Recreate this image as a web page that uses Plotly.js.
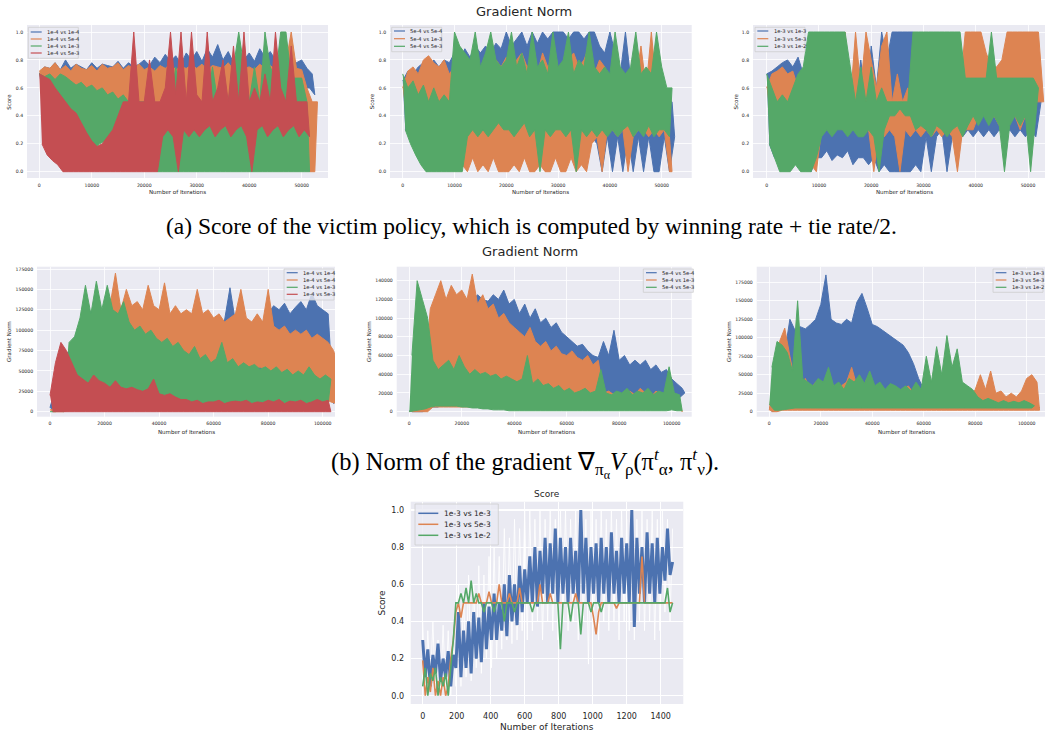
<!DOCTYPE html>
<html><head><meta charset="utf-8">
<script src="https://cdn.plot.ly/plotly-3.0.1.min.js"></script>
<style>html,body{margin:0;padding:0;background:#fff;}#chart{width:1045px;height:736px;}</style>
</head><body><div id="chart"></div>
<script>
// ---------------- DATA ----------------
// iteration spacing of the recorded values
const TOP_STEP = 500;     // row (a): score vs iterations
const MID_STEP = 1000;    // row (b): gradient norm vs iterations
const BOT_STEP = 15;      // bottom: score vs iterations

const NAMES_1E4 = ['1e-4 vs 1e-4','1e-4 vs 5e-4','1e-4 vs 1e-3','1e-4 vs 5e-3'];
const NAMES_5E4 = ['5e-4 vs 5e-4','5e-4 vs 1e-3','5e-4 vs 5e-3'];
const NAMES_1E3 = ['1e-3 vs 1e-3','1e-3 vs 5e-3','1e-3 vs 1e-2'];

const TOP_X_TICKS = [0,10000,20000,30000,40000,50000];
const MID_X_TICKS = [0,20000,40000,60000,80000,100000];
const BOT_X_TICKS = [0,200,400,600,800,1000,1200,1400];
const SCORE_TICKS = [0,0.2,0.4,0.6,0.8,1.0];
const GN_TICKS_175 = [0,25000,50000,75000,100000,125000,150000,175000];
const GN_TICKS_140 = [0,20000,40000,60000,80000,100000,120000,140000];

// (a) left: 1e-4
const TL_blue = [.7,.55,.75,.6,.74,.62,.78,.6,.73,.62,.8,.6,.74,.63,.77,.6,.75,.62,.73,.6,
.78,.62,.74,.6,.77,.63,.76,.6,.75,.62,.79,.6,.74,.62,.78,.6,.75,.63,.77,.6,
.8,.62,.76,.6,.82,.63,.78,.6,.84,.62,.79,.6,.83,.62,.77,.6,.85,.63,.8,.6,
.86,.62,.79,.6,.88,.63,.82,.6,.91,.62,.8,.6,.86,.62,.78,.6,.84,.63,.8,.6,
.85,.62,.79,.6,.88,.6,.82,.63,.86,.6,.8,.62,.85,.6,.79,.62,.83,.6,.78,.62,
.8,.6,.74,.6,.7,.55];
const TL_orange = [.72,.55,.75,.55,.74,.52,.78,.5,.73,.5,.76,.48,.72,.5,.77,.46,.74,.45,.73,.45,
.76,.44,.72,.45,.77,.43,.74,.45,.75,.44,.78,.46,.73,.45,.76,.48,.74,.5,.77,.5,
.73,.5,.75,.5,.72,.5,.76,.5,.74,.5,.77,.5,.73,.5,.75,.5,.74,.5,.76,.5,
.74,.5,.77,.5,.73,.5,.76,.5,.75,.5,.74,.5,.78,.5,.73,.5,.76,.5,.74,.5,
.75,.5,.73,.5,.77,.5,.74,.5,.76,.5,.73,.5,.75,.5,.78,.5,1,.5,.74,.5,
.73,.5,.6,0,.5,0,.5];
const TL_green = [.7,.62,.68,.58,.7,.55,.66,.5,.7,.45,.68,.42,.65,.38,.62,.32,.64,.25,.6,.18,
.62,.16,.58,.2,.6,.22,.55,.25,.57,.28,.52,.35,.55,.3,.5,.28,.55,.25,.5,.2,
.5,.22,.5,.15,.5,0,.45,0,.5,0,.5,0,.75,0,.5,0,.5,0,.5,0,
.5,0,.5,0,.5,0,.75,0,.5,0,.5,0,.5,0,.75,0,1,0,.75,0,
.5,0,.75,0,.5,0,1,0,.75,0,.67,0,1,0,1,0,.67,0,.67,0,
.67,0,.5,0];
const TL_red = [.7,.2,.68,.12,.66,.08,.6,.05,.55,0,.5,0,.45,0,.42,0,.35,0,.28,0,
.22,0,.18,0,.2,0,.25,0,.3,0,.4,0,.5,0,.5,0,1,0,.5,0,
.5,0,.8,0,.5,0,.5,.25,.6,.3,1,.25,.55,0,1,.3,.5,.25,1,.3,
.55,.25,.5,.3,1,.33,.5,.25,.6,.3,.8,.33,.5,.25,.9,.3,.5,.33,1,.25,
.5,0,.6,.3,.5,.33,.7,.25,.5,.3,1,.33,.6,.25,.5,.3,.9,.33,.5,.25,
.5,.3,.5,.25];

// (a) middle: 5e-4
const TM_blue = [.65,.3,.72,.35,.7,.4,.75,.38,.78,.4,.72,.35,.8,.4,.75,.38,.8,.35,.78,.4,
.85,.4,.8,.35,.88,.4,.82,.38,.9,.4,.85,.35,.9,.4,.85,.38,.92,.4,.88,.35,
1,.4,.9,.35,.95,.4,1,.38,.9,.4,1,.35,.92,.4,1,.38,.95,.35,1,.4,
1,.3,1,.35,.95,.3,1,.35,1,.3,.95,.35,1,.25,1,.2,.9,0,.85,.25,
1,0,.85,.25,.7,0,1,.25,.67,0,.67,.25,.75,0,.67,.25,.75,0,.67,0,
.67,.25,.5,0,.5,.25];
const TM_orange = [.6,.45,.72,.4,.75,.42,.7,.38,.8,.4,.83,.45,.78,.38,.75,.42,.8,.4,.7,.38,
.75,.1,.6,.05,.7,0,.8,.1,.65,0,.75,.05,.7,0,.85,.1,.8,0,.75,0,
.82,0,.7,.05,.8,0,.85,.1,.75,0,.8,0,.7,.05,.85,0,.75,0,.8,.1,
.75,0,.7,0,.8,.1,.85,0,.75,.05,.8,0,.9,.2,.7,.25,.8,0,.75,.3,
.6,.3,.8,.25,.65,.3,.7,0,.6,.25,.65,.3,.9,.3,.6,.25,1,.3,.6,.25,
.6,.3,.5,0,0];
const TM_green = [.7,.3,.6,.2,.65,.12,.55,.05,.62,0,.5,0,.6,0,.5,0,.55,0,.5,0,
1,0,.9,0,.85,.25,.8,.3,1,.25,.75,.3,.85,.25,1,.3,.8,.35,.75,.3,
.8,.3,1,.25,.75,.3,.85,.35,.7,.25,1,.3,.75,0,.8,.3,.7,.25,1,.3,
.75,.3,.8,.25,1,.3,.7,0,.8,.3,.75,.25,1,.3,.75,.25,.7,.3,.75,.25,
.7,.3,1,.25,.75,.3,.7,.33,.75,.25,1,.3,.7,.25,.75,.33,.7,.25,1,.3,
.75,.3,.6,.25,.6];

// (a) right: 1e-3
const TR_blue = [.7,.2,.72,.1,.75,.08,.78,.05,.8,.1,.75,.05,.82,.1,.7,.05,.65,0,.6,.1,
.5,.1,.45,.15,.5,.08,.4,.12,.45,.1,.5,.15,.45,.05,.5,.1,.8,.1,.5,.05,
.9,.1,.6,0,1,.05,.8,0,1,0,1,0,1,0,1,0,1,.05,.7,0,
.5,.25,.6,0,.5,.25,.5,.3,.6,0,.5,.25,.5,.3,.5,.25,.6,.3,.5,.25,
.5,.3,.5,.25,.6,.3,.5,.25,.5,.3,.5,.25,.67,.3,.5,.25,.5,.3,.5,.25,
.5,.3,.5,.25,.55,.5];
const TR_orange = [.6,.45,.7,.5,.72,.45,.75,.4,.7,.45,.72,.5,.6,.3,.5,.2,.4,.05,.5,0,
.8,.3,.5,.35,.9,.3,.6,.35,.7,.3,1,.35,.5,.3,1,.35,.6,.3,1,.3,
.8,0,.6,.3,.9,.25,1,.3,.5,.25,.7,0,.5,.3,.6,.25,.5,.3,1,.25,
.6,.3,.5,.25,1,.3,.5,.25,.7,.3,.5,.25,1,0,.6,.3,1,.3,1,.3,
1,.4,1,.45,.85,.35,.75,.4,.75,.33,.8,.3,1,.35,1,.4,1,.3,1,.4,
1,.35,1,.5,1,.5,.5];
const TR_green = [.7,.2,.6,.1,.5,0,.55,0,.5,0,.6,.05,.7,0,.75,0,1,0,1,.1,
1,.25,1,.3,1,.25,1,.3,1,.3,1,.25,.75,.3,.5,.25,.75,.25,.5,.3,
.75,.25,.5,0,.6,.3,.5,.4,.5,.4,.5,.45,.5,.4,.5,.4,1,.3,1,.33,
1,.3,1,.25,1,.33,1,.3,1,.25,1,.3,1,.33,1,.25,.67,.33,.67,.4,
.67,.33,.67,.4,.67,.33,1,.4,.67,.33,.67,0,.67,.33,.67,.4,.67,.33,.67,.4,
.67,0,.67,.4,.6];

// (b) left: 1e-4 gradient norm
const ML_blue = [5e3,0,30e3,5e3,50e3,5e3,70e3,10e3,80e3,10e3,
100e3,15e3,110e3,20e3,120e3,20e3,125e3,25e3,120e3,30e3,
125e3,35e3,120e3,40e3,130e3,40e3,125e3,45e3,120e3,40e3,
125e3,45e3,120e3,40e3,115e3,45e3,125e3,40e3,120e3,45e3,
115e3,40e3,120e3,45e3,110e3,40e3,115e3,45e3,110e3,40e3,
110e3,35e3,105e3,40e3,110e3,35e3,105e3,40e3,110e3,35e3,
105e3,40e3,110e3,35e3,112e3,40e3,152e3,35e3,110e3,40e3,
145e3,35e3,105e3,40e3,110e3,35e3,100e3,40e3,110e3,35e3,
120e3,40e3,130e3,35e3,125e3,40e3,133e3,35e3,120e3,40e3,
128e3,35e3,135e3,40e3,125e3,35e3,145e3,40e3,130e3,35e3,
125e3,30e3,120e3,20e3,10e3];
const ML_orange = [2e3,0,5e3,0,10e3,0,20e3,2e3,40e3,5e3,
60e3,10e3,80e3,15e3,90e3,20e3,100e3,25e3,110e3,30e3,
125e3,40e3,130e3,45e3,170e3,50e3,125e3,55e3,150e3,50e3,
130e3,55e3,135e3,50e3,125e3,55e3,155e3,50e3,130e3,55e3,
125e3,50e3,158e3,55e3,120e3,50e3,130e3,55e3,120e3,50e3,
125e3,55e3,120e3,50e3,150e3,55e3,120e3,50e3,125e3,55e3,
115e3,50e3,120e3,55e3,110e3,50e3,115e3,55e3,120e3,50e3,
150e3,50e3,115e3,55e3,110e3,50e3,120e3,55e3,110e3,50e3,
150e3,45e3,105e3,40e3,100e3,45e3,105e3,40e3,95e3,35e3,
100e3,35e3,95e3,30e3,100e3,30e3,90e3,25e3,95e3,20e3,
90e3,15e3,85e3,12e3,75e3,10e3,50e3];
const ML_green = [0,1e3,0,1e3,2e3,0,2e3,85e3,5e3,92e3,
8e3,115e3,10e3,155e3,10e3,120e3,12e3,160e3,10e3,125e3,
12e3,155e3,10e3,125e3,12e3,120e3,10e3,135e3,12e3,110e3,
10e3,100e3,12e3,105e3,10e3,95e3,12e3,100e3,10e3,90e3,
12e3,85e3,10e3,90e3,8e3,80e3,10e3,85e3,8e3,75e3,
5e3,70e3,8e3,80e3,5e3,65e3,8e3,70e3,5e3,60e3,
8e3,65e3,5e3,85e3,8e3,60e3,5e3,65e3,8e3,55e3,
10e3,60e3,8e3,55e3,10e3,58e3,8e3,52e3,10e3,55e3,
8e3,50e3,10e3,55e3,8e3,48e3,10e3,52e3,8e3,45e3,
10e3,50e3,8e3,45e3,10e3,55e3,8e3,45e3,10e3,40e3,
8e3,45e3,10e3,40e3];
const ML_red = [20e3,0,60e3,0,85e3,0,75e3,0,60e3,0,
45e3,0,40e3,0,35e3,0,45e3,0,38e3,0,
35e3,0,30e3,0,38e3,0,30e3,0,28e3,0,
30e3,0,27e3,0,25e3,0,28e3,0,40e3,0,
22e3,0,20e3,0,22e3,0,18e3,0,15e3,0,
15e3,0,12e3,0,14e3,0,10e3,0,12e3,0,
12e3,0,14e3,0,10e3,0,12e3,0,13e3,0,
12e3,0,14e3,0,10e3,0,12e3,0,11e3,0,
14e3,0,12e3,0,15e3,0,10e3,0,13e3,0,
12e3,0,14e3,0,10e3,0,12e3,0,15e3,0,
12e3,0,14e3,0];

// (b) middle: 5e-4 gradient norm
const MM_blue = [0,0,10e3,0,30e3,0,60e3,2e3,80e3,5e3,
100e3,5e3,110e3,10e3,115e3,10e3,110e3,10e3,120e3,10e3,
115e3,10e3,120e3,10e3,118e3,10e3,125e3,10e3,120e3,10e3,
118e3,15e3,125e3,15e3,120e3,15e3,130e3,15e3,115e3,15e3,
120e3,15e3,105e3,20e3,115e3,15e3,100e3,20e3,110e3,15e3,
95e3,20e3,100e3,15e3,90e3,20e3,95e3,15e3,85e3,20e3,
80e3,20e3,75e3,15e3,70e3,20e3,72e3,15e3,65e3,20e3,
60e3,20e3,58e3,15e3,75e3,20e3,60e3,20e3,87e3,20e3,
55e3,20e3,60e3,20e3,50e3,15e3,55e3,20e3,50e3,15e3,
55e3,20e3,45e3,15e3,50e3,20e3,42e3,15e3,45e3,20e3,
35e3,20e3,30e3,15e3,25e3,20e3];
const MM_orange = [0,0,5e3,0,15e3,0,40e3,0,110e3,5e3,
125e3,5e3,140e3,5e3,120e3,5e3,135e3,5e3,125e3,5e3,
130e3,5e3,120e3,5e3,147e3,5e3,115e3,5e3,125e3,5e3,
110e3,5e3,115e3,5e3,100e3,5e3,105e3,5e3,95e3,5e3,
90e3,5e3,85e3,5e3,80e3,5e3,90e3,5e3,75e3,5e3,
70e3,5e3,75e3,5e3,65e3,5e3,70e3,5e3,62e3,5e3,
60e3,5e3,65e3,5e3,58e3,5e3,55e3,5e3,60e3,5e3,
50e3,5e3,55e3,5e3,20e3,5e3,22e3,5e3,18e3,5e3,
20e3,5e3,15e3,5e3,22e3,5e3,18e3,5e3,25e3,5e3,
20e3,5e3,15e3,5e3,22e3,5e3,18e3,5e3,20e3,5e3,
15e3,5e3,18e3,5e3,0];
const MM_green = [0,60e3,1e3,140e3,2e3,120e3,3e3,100e3,5e3,55e3,
6e3,45e3,6e3,50e3,6e3,55e3,6e3,45e3,6e3,60e3,
5e3,48e3,5e3,40e3,4e3,45e3,4e3,40e3,3e3,42e3,
3e3,38e3,2e3,40e3,2e3,35e3,2e3,38e3,1e3,35e3,
1e3,32e3,1e3,35e3,1e3,60e3,1e3,30e3,1e3,35e3,
1e3,28e3,1e3,30e3,1e3,25e3,1e3,28e3,1e3,22e3,
1e3,25e3,1e3,20e3,1e3,22e3,1e3,25e3,1e3,20e3,
1e3,22e3,1e3,45e3,1e3,20e3,1e3,18e3,1e3,22e3,
1e3,20e3,1e3,25e3,1e3,18e3,1e3,22e3,1e3,20e3,
1e3,25e3,1e3,18e3,1e3,22e3,1e3,20e3,1e3,48e3,
2e3,20e3,1e3,18e3,1e3];

// (b) right: 1e-3 gradient norm
const MR_blue = [5e3,0,15e3,2e3,40e3,5e3,80e3,10e3,125e3,20e3,
110e3,25e3,115e3,25e3,112e3,30e3,118e3,25e3,125e3,30e3,
145e3,25e3,185e3,30e3,125e3,25e3,120e3,30e3,118e3,25e3,
125e3,30e3,120e3,25e3,148e3,30e3,160e3,25e3,140e3,30e3,
118e3,25e3,115e3,30e3,110e3,25e3,105e3,30e3,100e3,25e3,
95e3,25e3,90e3,20e3,80e3,25e3,65e3,20e3,45e3,20e3,
30e3,15e3,35e3,10e3,30e3,15e3,28e3,10e3,32e3,15e3,
30e3,10e3,28e3,15e3,35e3,10e3,30e3,15e3,25e3,10e3,
20e3,10e3,18e3,10e3,20e3,10e3,18e3,10e3,20e3,10e3,
18e3,10e3,20e3,10e3,18e3,10e3,15e3,10e3,18e3,10e3,
15e3,8e3,18e3,8e3,10e3,5e3];
const MR_orange = [2e3,0,60e3,0,95e3,2e3,113e3,2e3,75e3,2e3,
40e3,2e3,35e3,2e3,45e3,2e3,30e3,2e3,40e3,2e3,
35e3,2e3,30e3,2e3,38e3,2e3,32e3,2e3,35e3,2e3,
40e3,2e3,60e3,2e3,35e3,2e3,30e3,2e3,45e3,2e3,
30e3,2e3,35e3,2e3,28e3,2e3,30e3,2e3,25e3,2e3,
30e3,2e3,28e3,2e3,35e3,2e3,25e3,2e3,15e3,2e3,
8e3,2e3,10e3,2e3,8e3,2e3,10e3,2e3,8e3,2e3,
10e3,2e3,8e3,2e3,10e3,2e3,25e3,2e3,20e3,2e3,
30e3,2e3,50e3,2e3,30e3,2e3,55e3,2e3,25e3,2e3,
28e3,2e3,20e3,2e3,25e3,2e3,20e3,2e3,28e3,2e3,
45e3,2e3,50e3,2e3,40e3,2e3];
const MR_green = [10e3,60e3,2e3,95e3,2e3,90e3,3e3,80e3,4e3,55e3,
5e3,150e3,5e3,45e3,5e3,40e3,5e3,35e3,5e3,45e3,
5e3,40e3,5e3,60e3,5e3,35e3,5e3,40e3,5e3,30e3,
5e3,45e3,5e3,40e3,5e3,50e3,5e3,38e3,5e3,55e3,
5e3,35e3,5e3,40e3,5e3,30e3,5e3,38e3,5e3,35e3,
5e3,30e3,5e3,35e3,5e3,28e3,5e3,40e3,5e3,30e3,
5e3,75e3,5e3,40e3,5e3,88e3,5e3,50e3,5e3,103e3,
5e3,60e3,5e3,85e3,5e3,40e3,5e3,35e3,5e3,30e3,
5e3,20e3,5e3,15e3,5e3,18e3,5e3,15e3,5e3,12e3,
5e3,15e3,5e3,12e3,5e3,14e3,5e3,12e3,5e3,15e3,
5e3,12e3,5e3,8e3];

// bottom: score 1e-3 (white spread + three series)
const B_spread = [.4,0,.35,.05,.4,0,.3,.02,.38,0,.35,0,.3,.05,
.6,.05,.55,.1,.65,.08,.6,.15,.7,.12,.65,.2,.75,.15,
.8,.2,.75,.25,.9,.3,.85,.28,.95,.3,.9,.35,1,.3,
1,.35,.95,.4,1,.3,.95,.4,1,.35,.95,.3,1,.4,
1,.35,.95,.4,1,.3,1,.4,.95,.17,1,.4,.95,.3,
1,.4,.95,.35,1,.4,.95,.3,1,.4,.95,.35,1,.3,
.95,.4,1,.35,.95,.4,1,.3,.95,.35,1,.45,.95,.4,.9];
const B_blue = [.3,.1,.25,.05,.22,.12,.28,.08,.2,.1,.24,.05,.22,.15,
.45,.1,.35,.15,.4,.12,.45,.2,.42,.18,.5,.25,.48,.3,
.55,.3,.5,.35,.6,.32,.65,.4,.6,.38,.7,.45,.68,.5,
.75,.5,.8,.48,.78,.55,.85,.5,.82,.55,.9,.5,.85,.55,
.8,.5,.85,.55,.78,.5,1,.55,.85,.5,.8,.55,.82,.5,
.85,.55,.8,.5,.88,.55,.78,.5,.85,.55,.82,.5,1,.37,
.85,.55,.8,.5,.88,.55,.82,.5,.85,.55,.8,.62,.9,.65,.72];
const B_orange = [.19,0,.1,.02,.15,0,.08,0,.1,0,.05,.2,.3,.45,
.5,.42,.5,.5,.5,.5,.5,.5,.55,.5,.5,.5,.56,.5,
.5,.5,.6,.5,.5,.5,.55,.5,.5,.5,.58,.5,.5,.5,
.5,.5,.5,.5,.6,.5,.5,.5,.55,.5,.5,.5,.5,.5,
.5,.5,.5,.5,.55,.5,.5,.5,.5,.5,.5,.42,.33,.45,
.5,.5,.5,.5,.5,.5,.47,.5,.5,.5,.5,.5,.5,.5,
.5,.5,.75,.5,.5,.5,.5,.5,.5,.5,.5,.5,.5,.5,.5];
const B_green = [.05,.15,0,.12,.08,.15,0,.1,.05,.12,0,.15,.3,.5,
.5,.55,.5,.58,.5,.62,.5,.55,.5,.5,.45,.5,.5,.5,
.45,.5,.5,.5,.4,.5,.5,.5,.45,.5,.5,.5,.5,.5,
.5,.45,.5,.5,.5,.5,.5,.5,.5,.5,.5,.5,.25,.5,
.5,.5,.4,.5,.5,.5,.33,.5,.5,.5,.45,.5,.5,.5,
.45,.5,.5,.5,.5,.5,.5,.5,.5,.5,.5,.5,.5,.5,
.5,.5,.5,.5,.5,.5,.5,.5,.5,.5,.5,.5,.58,.45,.5];

// ---------------- STYLE / LAYOUT ----------------
const W = 1045, H = 736;
const C = ['#4C72B0','#DD8452','#55A868','#C44E52'];
const FONT = 'DejaVu Sans, sans-serif';
const TXT = '#262626';
const px = x => x / W, py = y => (H - y) / H;

const panels = [
  {dom:[27,25,328,178], xr:[-2344,55011], yr:[-0.0451,1.0501], xt:TOP_X_TICKS, yt:SCORE_TICKS, yf:'.1f', step:TOP_STEP,
   series:[TL_blue,TL_orange,TL_green,TL_red], names:NAMES_1E4, ytitle:'Score',
   xtitle:[177.5,191.7], ytitleX:8.3, small:true,
   leg:{box:[28.3,27.3,78.3,58.3], lx:[30.7,41.7], tx:45, ys:[32,39,46,53]}},
  {dom:[390,25,691.7,178], xr:[-2452,55792], yr:[-0.0451,1.0501], xt:TOP_X_TICKS, yt:SCORE_TICKS, yf:'.1f', step:TOP_STEP,
   series:[TM_blue,TM_orange,TM_green], names:NAMES_5E4, ytitle:'Score',
   xtitle:[540.8,191.7], ytitleX:371.7, small:true,
   leg:{box:[391.7,27.3,441.7,51.7], lx:[394,405], tx:408.3, ys:[31,38.7,46.3]}},
  {dom:[753,25,1045,178], xr:[-2621,53253], yr:[-0.0451,1.0501], xt:TOP_X_TICKS, yt:SCORE_TICKS, yf:'.1f', step:TOP_STEP,
   series:[TR_blue,TR_orange,TR_green], names:NAMES_1E3, ytitle:'Score',
   xtitle:[904,191.7], ytitleX:735, small:true,
   leg:{box:[755,27.3,805,51.7], lx:[757.3,768.3], tx:771.7, ys:[31,38.7,46.3]}},
  {dom:[37,266.7,335,416.7], xr:[-4767,104510], yr:[-6132,177820], xt:MID_X_TICKS, yt:GN_TICKS_175, yf:'d', step:MID_STEP,
   series:[ML_blue,ML_orange,ML_green,ML_red], names:NAMES_1E4, ytitle:'Gradient Norm',
   xtitle:[186.7,431.7], ytitleX:8.3, small:true,
   leg:{box:[284,269,334,300], lx:[286.7,297.7], tx:301, ys:[272.7,280,287.3,294.3]}},
  {dom:[396.7,266.7,691.7,416.7], xr:[-4802,107622], yr:[-5344,154962], xt:MID_X_TICKS, yt:GN_TICKS_140, yf:'d', step:MID_STEP,
   series:[MM_blue,MM_orange,MM_green], names:NAMES_5E4, ytitle:'Gradient Norm',
   xtitle:[546,431.7], ytitleX:368.3, small:true,
   leg:{box:[643.3,269,693.3,292.3], lx:[646,656.7], tx:660, ys:[272.7,280,287.3]}},
  {dom:[756.7,266.7,1045,416.7], xr:[-4895,107110], yr:[-6762,196097], xt:MID_X_TICKS, yt:GN_TICKS_175, yf:'d', step:MID_STEP,
   series:[MR_blue,MR_orange,MR_green], names:NAMES_1E3, ytitle:'Gradient Norm',
   xtitle:[906,431.7], ytitleX:728.3, small:true,
   leg:{box:[993,269,1043,292.3], lx:[995.7,1006.4], tx:1009.7, ys:[272.7,280,287.3]}},
  {dom:[410.7,501.7,683.3,704], xr:[-70.6,1533], yr:[-0.0447,1.0447], xt:BOT_X_TICKS, yt:SCORE_TICKS, yf:'.1f', step:BOT_STEP,
   series:[B_blue,B_orange,B_green], spread:B_spread, names:NAMES_1E3, ytitle:'Score',
   xtitle:[547,727.3], ytitleX:381.7, small:false,
   leg:{box:[415,504,498.3,545], lx:[418.3,438.3], tx:441.7, ys:[513.3,524.3,535.3]}}
];

// closed outline of a noisy series: its peaks (even samples) forward, its troughs (odd samples) back
function envelope(s, step) {
  const up = [], dn = [];
  s.forEach((v, k) => { (k % 2 === 0 ? up : dn).push([k * step, v]); });
  const pts = up.concat(dn.reverse());
  return {x: pts.map(p => p[0]), y: pts.map(p => p[1])};
}

const traces = [];
const layout = {
  width: W, height: H, margin:{l:0,r:0,t:0,b:0,pad:0, autoexpand:false},
  paper_bgcolor:'#ffffff', plot_bgcolor:'#EAEAF2', showlegend:false,
  font:{family:FONT, color:TXT}, shapes:[], annotations:[]
};

function idx(i){ return i===0 ? '' : String(i+1); }

panels.forEach((p, i) => {
  const xa = 'x'+idx(i), ya = 'y'+idx(i);
  const tickSize = p.small ? 4.6 : 8;
  const titleSize = p.small ? 5.5 : 9;
  const common = {showgrid:true, gridcolor:'#ffffff', gridwidth:p.small?0.8:1.1, zeroline:false, showline:false,
    ticks:'outside', tickcolor:'rgba(0,0,0,0)', ticklen:p.small?2:4, tickfont:{size:tickSize, color:TXT, family:FONT},
    automargin:false, fixedrange:true};
  layout['xaxis'+idx(i)] = Object.assign({}, common, {domain:[px(p.dom[0]), px(p.dom[2])], range:p.xr,
    tickvals:p.xt, tickformat:'d', anchor:ya});
  layout['yaxis'+idx(i)] = Object.assign({}, common, {domain:[py(p.dom[3]), py(p.dom[1])], range:p.yr,
    tickvals:p.yt, tickformat:p.yf, anchor:xa});
  if (p.spread) {
    traces.push({type:'scatter', mode:'lines', x:p.spread.map((_,k)=>k*p.step), y:p.spread, xaxis:xa, yaxis:ya,
      line:{color:'rgba(255,255,255,0.85)', width:1, simplify:false}, hoverinfo:'skip', showlegend:false});
  }
  p.series.forEach((s, j) => {
    if (p.small) {
      const e = envelope(s, p.step);
      traces.push({type:'scatter', mode:'lines', name:p.names[j], x:e.x, y:e.y, xaxis:xa, yaxis:ya,
        fill:'toself', fillcolor:C[j], line:{color:C[j], width:1, simplify:false}, hoverinfo:'skip', showlegend:false});
    } else {
      traces.push({type:'scatter', mode:'lines', name:p.names[j], x:s.map((_,k)=>k*p.step), y:s, xaxis:xa, yaxis:ya,
        line:{color:C[j], width:(j===0 ? 3 : 1.6), simplify:false}, hoverinfo:'skip', showlegend:false});
    }
  });
  // axis titles
  layout.annotations.push({xref:'paper', yref:'paper', x:px(p.xtitle[0]), y:py(p.xtitle[1]), text:'Number of Iterations',
    showarrow:false, xanchor:'center', yanchor:'middle', font:{size:titleSize, color:TXT}});
  layout.annotations.push({xref:'paper', yref:'paper', x:px(p.ytitleX), y:py((p.dom[1]+p.dom[3])/2), text:p.ytitle,
    textangle:-90, showarrow:false, xanchor:'center', yanchor:'middle', font:{size:titleSize, color:TXT}});
  // legend box drawn in the seaborn style
  const L = p.leg;
  layout.shapes.push({type:'rect', xref:'paper', yref:'paper', x0:px(L.box[0]), x1:px(L.box[2]), y0:py(L.box[3]), y1:py(L.box[1]),
    fillcolor:'rgba(234,234,242,0.8)', line:{color:'rgba(204,204,204,0.9)', width:0.8}, layer:'above'});
  p.names.forEach((n, j) => {
    layout.shapes.push({type:'line', xref:'paper', yref:'paper', x0:px(L.lx[0]), x1:px(L.lx[1]), y0:py(L.ys[j]), y1:py(L.ys[j]),
      line:{color:C[j], width:p.small?1.2:1.5}, layer:'above'});
    layout.annotations.push({xref:'paper', yref:'paper', x:px(L.tx), y:py(L.ys[j]), text:n, showarrow:false,
      xanchor:'left', yanchor:'middle', font:{size:p.small?5.2:7.5, color:TXT}});
  });
});

// figure titles and captions
layout.annotations.push({xref:'paper', yref:'paper', x:px(524), y:py(11), text:'Gradient Norm', showarrow:false,
  xanchor:'center', yanchor:'middle', font:{size:13, color:TXT}});
layout.annotations.push({xref:'paper', yref:'paper', x:px(529.7), y:py(251.7), text:'Gradient Norm', showarrow:false,
  xanchor:'center', yanchor:'middle', font:{size:13, color:TXT}});
layout.annotations.push({xref:'paper', yref:'paper', x:px(546.7), y:py(494), text:'Score', showarrow:false,
  xanchor:'center', yanchor:'middle', font:{size:9, color:TXT}});
layout.annotations.push({xref:'paper', yref:'paper', x:px(531), y:py(226),
  text:'(a) Score of the victim policy, which is computed by winning rate + tie rate/2.', showarrow:false,
  xanchor:'center', yanchor:'middle', font:{size:23.5, color:'#000', family:'Liberation Serif, Times New Roman, serif'}});
layout.annotations.push({xref:'paper', yref:'paper', x:px(525), y:py(463),
  text:'(b) Norm of the gradient ∇<sub>π<sub>α</sub></sub><i>V</i><sub>ρ</sub>(π<sup><i>t</i></sup><sub>α</sub>, π<sup><i>t</i></sup><sub>ν</sub>).', showarrow:false,
  xanchor:'center', yanchor:'middle', font:{size:24.5, color:'#000', family:'Liberation Serif, Times New Roman, serif'}});

Plotly.newPlot('chart', traces, layout, {staticPlot:true, displayModeBar:false});
</script></body></html>
